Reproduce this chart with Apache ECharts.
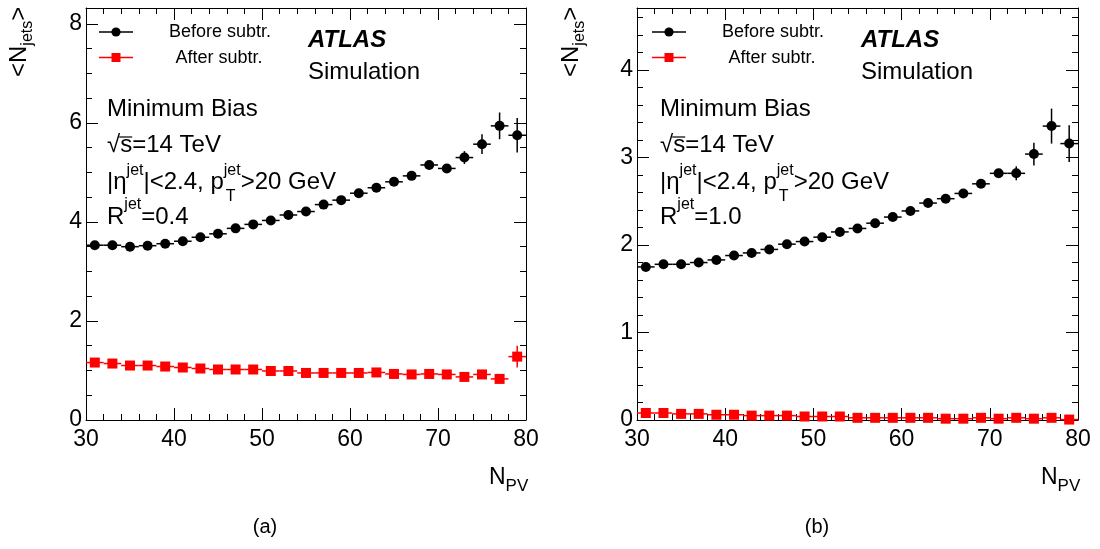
<!DOCTYPE html>
<html><head><meta charset="utf-8">
<script src="https://cdn.jsdelivr.net/npm/echarts@6/dist/echarts.min.js"></script>
<style>html,body{margin:0;padding:0;background:#fff}#c{width:1100px;height:549px}</style>
</head><body><div id="c"></div>
<script>
// ---------------- data ----------------
const nPV = [31,33,35,37,39,41,43,45,47,49,51,53,55,57,59,61,63,65,67,69,71,73,75,77,79];

// (a) R=0.4
const aBefore    = [3.53,3.53,3.50,3.52,3.56,3.61,3.69,3.76,3.87,3.95,4.03,4.14,4.21,4.35,4.44,4.58,4.69,4.81,4.93,5.15,5.08,5.30,5.57,5.94,5.75];
const aBeforeErr = [0.02,0.02,0.02,0.02,0.02,0.02,0.02,0.02,0.02,0.02,0.02,0.02,0.03,0.03,0.03,0.03,0.03,0.04,0.04,0.05,0.06,0.13,0.20,0.27,0.35];
const aAfter     = [1.16,1.14,1.10,1.10,1.08,1.06,1.04,1.02,1.02,1.02,0.99,0.99,0.95,0.95,0.95,0.95,0.96,0.93,0.92,0.93,0.92,0.87,0.92,0.83,1.28];
const aAfterErr  = [0.01,0.01,0.01,0.01,0.01,0.01,0.01,0.01,0.01,0.01,0.01,0.01,0.01,0.01,0.02,0.02,0.02,0.02,0.02,0.03,0.03,0.04,0.05,0.09,0.22];

// (b) R=1.0
const bBefore    = [1.75,1.78,1.78,1.80,1.83,1.88,1.91,1.95,2.01,2.04,2.09,2.15,2.19,2.25,2.32,2.39,2.48,2.53,2.59,2.70,2.82,2.82,3.04,3.36,3.16];
const bBeforeErr = [0.01,0.01,0.01,0.01,0.01,0.01,0.01,0.01,0.01,0.01,0.01,0.01,0.01,0.02,0.02,0.02,0.02,0.02,0.03,0.03,0.05,0.08,0.13,0.20,0.21];
const bAfter     = [0.08,0.08,0.07,0.07,0.06,0.06,0.05,0.05,0.05,0.04,0.04,0.04,0.025,0.025,0.025,0.025,0.025,0.015,0.015,0.025,0.015,0.025,0.015,0.025,0.005];
const bAfterErr  = [0.005,0.005,0.005,0.005,0.005,0.005,0.005,0.005,0.005,0.005,0.005,0.005,0.005,0.005,0.005,0.005,0.005,0.005,0.005,0.005,0.005,0.01,0.01,0.01,0.02];

// axes / ticks
const xRange = [30, 80];
const xMajor = 10, xMinorSplit = 5;
const aYMax = 8.32, aYMajor = 2, aYMinor = 0.5;
const bYMax = 4.71, bYMajor = 1, bYMinor = 0.2;
const binHalf = 1;

// ---------------- drawing ----------------
const FONT = '"Liberation Sans", Arial, Helvetica, sans-serif';
const mctx = document.createElement('canvas').getContext('2d');
function fontStr(fs, w, s){ return (s||'normal') + ' ' + (w||'normal') + ' ' + fs + 'px ' + FONT; }
function tw(t, fs, w, s){ mctx.font = fontStr(fs, w, s); return mctx.measureText(t).width; }
const MID = 0.34;
function T(x, base, t, fs, o){
  o = o || {};
  return {type:'text', x:x, y: base - MID*fs, silent:true, z:10,
    style:{text:t, font:fontStr(fs, o.w, o.s), fill:o.c||'#000', align:o.align||'left', verticalAlign:'middle'}};
}
const G = [];

function panelText(dx, rLabel){
  // legend
  G.push({type:'line', silent:true, shape:{x1:99+dx,y1:32,x2:133+dx,y2:32}, style:{stroke:'#000', lineWidth:1.5}});
  G.push({type:'circle', silent:true, shape:{cx:116+dx,cy:32,r:4.6}, style:{fill:'#000'}});
  G.push({type:'line', silent:true, shape:{x1:99+dx,y1:57.5,x2:133+dx,y2:57.5}, style:{stroke:'#f00', lineWidth:1.5}});
  G.push({type:'rect', silent:true, shape:{x:111.5+dx,y:53,width:9,height:9}, style:{fill:'#f00'}});
  G.push(T(220+dx, 38.5, 'Before subtr.', 18, {align:'center'}));
  G.push(T(219+dx, 64, 'After subtr.', 18, {align:'center'}));
  // ATLAS
  G.push(T(308+dx, 48.5, 'ATLAS', 24, {w:'bold', s:'italic'}));
  G.push(T(308+dx, 80.5, 'Simulation', 24));
  const X0 = 107 + dx;
  G.push(T(X0, 117.5, 'Minimum Bias', 24));
  // sqrt(s)=14 TeV
  const wr = tw('\u221A', 24);
  G.push(T(X0, 153.5, '\u221A', 24));
  G.push(T(X0 + wr, 153.5, 's=14 TeV', 24));
  const ws = tw('s', 24);
  G.push({type:'line', silent:true, shape:{x1:X0+wr-1, y1:137, x2:X0+wr+ws, y2:137}, style:{stroke:'#000', lineWidth:1.2}});
  // |eta^jet|<2.4, p_T^jet>20 GeV
  let x = X0, b = 191;
  G.push(T(x, b, '|\u03B7', 24)); x += tw('|\u03B7', 24);
  G.push(T(x, b-15, 'jet', 16)); x += tw('jet', 16);
  G.push(T(x, b, '|<2.4, p', 24)); x += tw('|<2.4, p', 24);
  G.push(T(x, b-15, 'jet', 16)); G.push(T(x+2, b+11, 'T', 16)); x += tw('jet', 16);
  G.push(T(x, b, '>20 GeV', 24));
  // R^jet
  x = X0; b = 225.5;
  G.push(T(x, b, 'R', 24)); x += tw('R', 24);
  G.push(T(x, b-15, 'jet', 16)); x += tw('jet', 16);
  G.push(T(x, b, '=' + rLabel, 24));
}
panelText(0, '0.4');
panelText(553, '1.0');

function axisTitles(dx, tag){
  // y title, rotated
  const fs = 24, fss = 16;
  const w1 = tw('<N', fs), w2 = tw('jets', fss);
  G.push({type:'group', x:28+dx, y:77, rotation:Math.PI/2, silent:true, children:[
    T(0, 0, '<N', fs),
    T(w1, 5, 'jets', fss),
    T(w1 + w2, 0, '>', fs)
  ]});
  // x title
  const wN = tw('N', 23);
  G.push(T(489+dx, 485, 'N', 23));
  G.push(T(489+dx+wN, 492, 'PV', 17));
  // panel tag
  G.push(T(265+dx, 534, tag, 20, {align:'center'}));
}
axisTitles(0, '(a)');
axisTitles(552, '(b)');

// ------------- chart option -------------
const black = '#000';
function xAx(grid, pos){
  return {type:'value', gridIndex:grid, position:pos, min:xRange[0], max:xRange[1], interval:xMajor,
    axisLine:{show:true, onZero:false, lineStyle:{color:black, width:1}},
    axisTick:{show:true, inside:true, length:12, lineStyle:{color:black, width:1}},
    minorTick:{show:true, splitNumber:xMinorSplit, length:6, lineStyle:{color:black, width:1}},
    splitLine:{show:false}, minorSplitLine:{show:false},
    axisLabel:{show:pos==='bottom', color:black, fontSize:23, fontFamily:FONT, margin:8}};
}
function yAx(grid, pos, max, interval, major){
  return {type:'value', gridIndex:grid, position:pos, offset:0, min:0, max:max, interval:interval,
    axisLine:{show:major, onZero:false, lineStyle:{color:black, width:1}},
    axisTick:{show:true, inside:true, length: major?12:6, lineStyle:{color:black, width:1}},
    splitLine:{show:false},
    axisLabel:{show: major && pos==='left', showMaxLabel:false, color:black, fontSize:23, fontFamily:FONT, margin:4}};
}
function errSeries(xi, yi, ys, errs, color){
  return {type:'custom', xAxisIndex:xi, yAxisIndex:yi, silent:true, z:3, clip:false,
    data: nPV.map((v,i)=>[v, ys[i], errs[i]]), encode:{x:0, y:1},
    renderItem:function(params, api){
      const x = api.value(0), y = api.value(1), e = api.value(2);
      const a = api.coord([x-binHalf, y]), b = api.coord([x+binHalf, y]);
      const c = api.coord([x, y-e]), d = api.coord([x, y+e]);
      return {type:'group', children:[
        {type:'line', shape:{x1:a[0],y1:a[1],x2:b[0],y2:b[1]}, style:{stroke:color, lineWidth:1.5}},
        {type:'line', shape:{x1:c[0],y1:c[1],x2:d[0],y2:d[1]}, style:{stroke:color, lineWidth:1.5}}
      ]};
    }};
}
function ptSeries(xi, yi, ys, color, sym, size){
  return {type:'scatter', xAxisIndex:xi, yAxisIndex:yi, silent:true, z:4,
    data: nPV.map((v,i)=>[v, ys[i]]), symbol:sym, symbolSize:size,
    itemStyle:{color:color, opacity:1}};
}

const option = {
  animation:false,
  backgroundColor:'#fff',
  grid:[
    {left:86, top:8, width:440, height:412, show:false},
    {left:637, top:8, width:441, height:412, show:false}
  ],
  xAxis:[ xAx(0,'bottom'), xAx(0,'top'), xAx(1,'bottom'), xAx(1,'top') ],
  yAxis:[
    yAx(0,'left',aYMax,aYMajor,true), yAx(0,'left',aYMax,aYMinor,false),
    yAx(0,'right',aYMax,aYMajor,true), yAx(0,'right',aYMax,aYMinor,false),
    yAx(1,'left',bYMax,bYMajor,true), yAx(1,'left',bYMax,bYMinor,false),
    yAx(1,'right',bYMax,bYMajor,true), yAx(1,'right',bYMax,bYMinor,false)
  ],
  series:[
    errSeries(0,0,aBefore,aBeforeErr,'#000'), ptSeries(0,0,aBefore,'#000','circle',10),
    errSeries(0,0,aAfter,aAfterErr,'#f00'), ptSeries(0,0,aAfter,'#f00','rect',10),
    errSeries(2,4,bBefore,bBeforeErr,'#000'), ptSeries(2,4,bBefore,'#000','circle',10),
    errSeries(2,4,bAfter,bAfterErr,'#f00'), ptSeries(2,4,bAfter,'#f00','rect',10)
  ],
  graphic:{elements:G}
};
const chart = echarts.init(document.getElementById('c'), null, {renderer:'canvas'});
chart.setOption(option);
</script>
</body></html>
